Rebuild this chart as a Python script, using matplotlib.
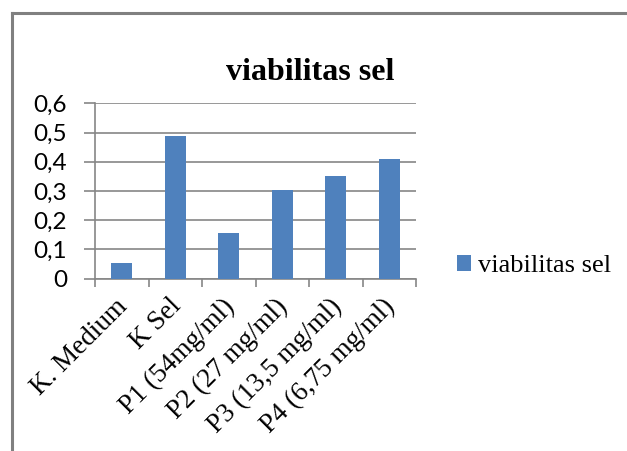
import matplotlib
matplotlib.use('Agg')
import matplotlib.pyplot as plt
import matplotlib.transforms as mtransforms
from matplotlib.lines import Line2D
import numpy as np

# data
categories = ['K. Medium', 'K Sel', 'P1 (54mg/ml)', 'P2 (27 mg/ml)',
              'P3 (13,5 mg/ml)', 'P4 (6,75 mg/ml)']
viabilitas = [0.053, 0.488, 0.155, 0.302, 0.351, 0.410]
y_ticks = [0, 0.1, 0.2, 0.3, 0.4, 0.5, 0.6]
y_labels = ['0', '0,1', '0,2', '0,3', '0,4', '0,5', '0,6']

BAR_COLOR = '#4F81BD'
GRID_COLOR = '#868686'
SERIF = 'Liberation Serif'
SANS = 'Lato'

fig = plt.figure(figsize=(6.27, 4.51), dpi=100)
ax = fig.add_axes([95 / 627, 1 - 278.7 / 451, 321 / 627, 175.4 / 451])

x = np.arange(len(categories))
ax.bar(x, viabilitas, width=0.4, color=BAR_COLOR, zorder=3, label='viabilitas sel')

ax.set_xlim(-0.5, len(categories) - 0.5)
ax.set_ylim(0, 0.6)
ax.set_yticks(y_ticks)
ax.set_yticklabels(y_labels, fontfamily=SANS, fontsize=17.5)
ax.yaxis.grid(True, color=GRID_COLOR, linewidth=1.2, zorder=0)

# category boundaries as major ticks, labels on minor ticks
ax.set_xticks(np.arange(len(categories) + 1) - 0.5)
ax.set_xticklabels([])
ax.set_xticks(x, minor=True)
ax.set_xticklabels(categories, minor=True, rotation=45, ha='right',
                   rotation_mode='anchor', fontfamily=SERIF, fontsize=19.5)
ax.tick_params(axis='x', which='minor', length=0, pad=11)
ax.tick_params(axis='x', which='major', length=6, width=1.2, color=GRID_COLOR)
ax.tick_params(axis='y', length=8, width=1.2, color=GRID_COLOR, pad=12)

# nudge the rotated labels a little to the left, like the original
shift = mtransforms.ScaledTranslation(-5 / 72, 0, fig.dpi_scale_trans)
for lbl in ax.get_xticklabels(minor=True):
    lbl.set_transform(lbl.get_transform() + shift)

for side in ['top', 'right']:
    ax.spines[side].set_visible(False)
for side in ['left', 'bottom']:
    ax.spines[side].set_color(GRID_COLOR)
    ax.spines[side].set_linewidth(1.2)

fig.text(310 / 627, 1 - 72 / 451, 'viabilitas sel', ha='center', va='center',
         fontfamily=SERIF, fontweight='bold', fontsize=23)

leg = fig.legend(loc='center left', bbox_to_anchor=(433 / 627, 1 - 266 / 451),
                 frameon=False, prop={'family': SERIF, 'size': 19},
                 handlelength=0.55, handleheight=0.55, handletextpad=0.25)

# outer frame (top and left only)
fig.add_artist(Line2D([12 / 627, 12 / 627], [0, 1 - 13 / 451], color='#808080', linewidth=2.2))
fig.add_artist(Line2D([12 / 627, 1], [1 - 13 / 451, 1 - 13 / 451], color='#808080', linewidth=2.2))

fig.savefig('out.png', dpi=100)
